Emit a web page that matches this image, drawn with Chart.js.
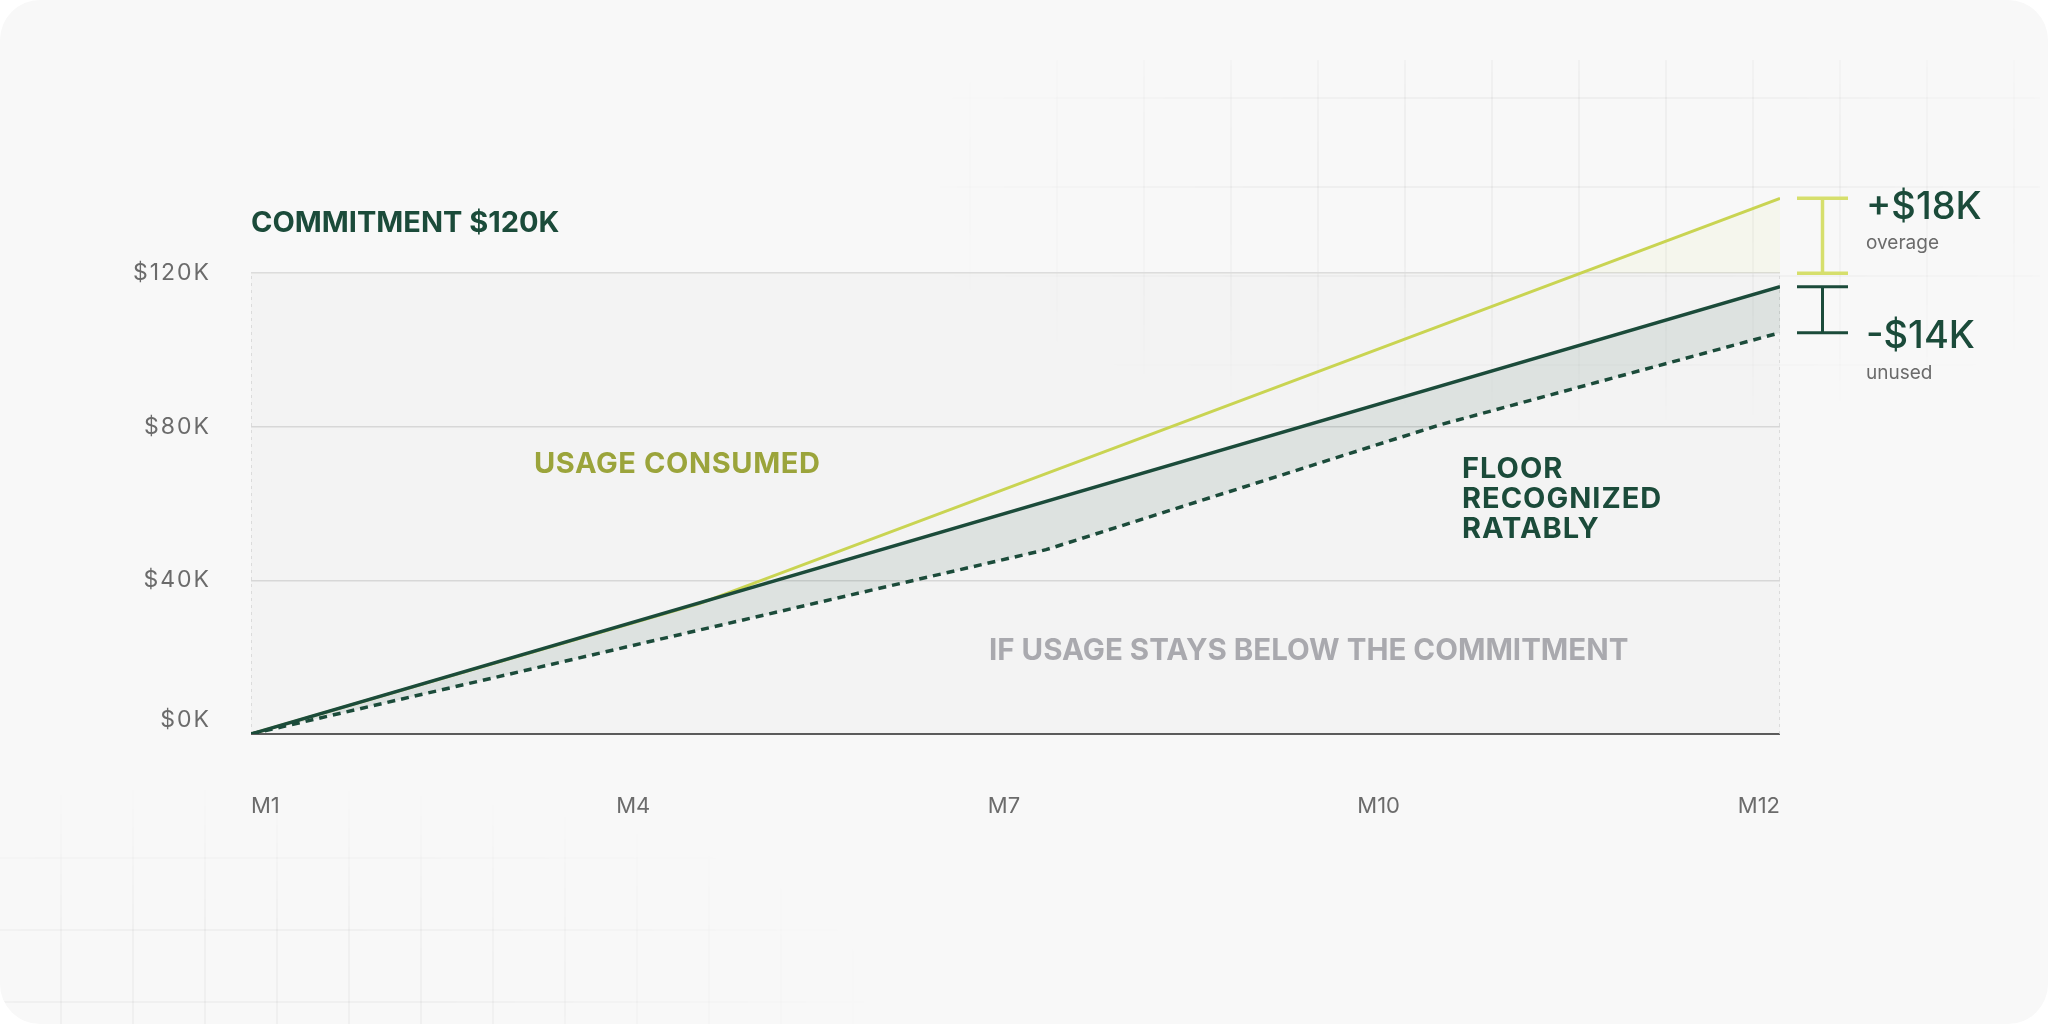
<!DOCTYPE html>
<html>
<head>
<meta charset="utf-8">
<title>Commitment vs usage</title>
<script src="https://cdn.jsdelivr.net/npm/chart.js@4.4.1/dist/chart.umd.min.js"></script>
<style>
    html, body { margin: 0; padding: 0; background: #ffffff; }
    .card {
        position: absolute; left: 0; top: 0; width: 2048px; height: 1024px;
        background: #f8f8f8; border-radius: 40px; overflow: hidden;
    }
    .deco { position: absolute; pointer-events: none; }
    .deco-tr {
        left: 940px; top: 60px; width: 1100px; height: 360px;
        background-image:
            linear-gradient(to right, rgba(0,0,0,0.035) 2px, transparent 2px),
            linear-gradient(to bottom, rgba(0,0,0,0.035) 2px, transparent 2px);
        background-size: 87px 89px;
        background-position: 29px 37px;
        -webkit-mask-image: radial-gradient(ellipse 60% 70% at 55% 35%, #000 35%, transparent 100%);
        mask-image: radial-gradient(ellipse 60% 70% at 55% 35%, #000 35%, transparent 100%);
    }
    .deco-bl {
        left: 0; top: 790px; width: 940px; height: 234px;
        background-image:
            linear-gradient(to right, rgba(0,0,0,0.03) 2px, transparent 2px),
            linear-gradient(to bottom, rgba(0,0,0,0.03) 2px, transparent 2px);
        background-size: 72px 72px;
        background-position: 60px 67px;
        -webkit-mask-image: radial-gradient(ellipse 70% 90% at 25% 85%, #000 30%, transparent 100%);
        mask-image: radial-gradient(ellipse 70% 90% at 25% 85%, #000 30%, transparent 100%);
    }
    canvas { position: absolute; left: 0; top: 0; }
</style>
</head>
<body>
<div class="card">
    <div class="deco deco-tr"></div>
    <div class="deco deco-bl"></div>
    <canvas id="chart" width="2048" height="1024"></canvas>
</div>
<script>
// --- DATA (x runs 0 = M1 ... 4 = M12, y in $K) ---
const xTickLabels = ['M1', 'M4', 'M7', 'M10', 'M12'];
const xTickValues = [0, 1, 1.97, 2.95, 4];
const yTickValues = [0, 40, 80, 120];
const commitment = 120;

const usageX = [0, 1.175, 4];
const usageY = [0, 34, 139.5];

const floorX = [0, 4];
const floorY = [0, 116.5];

const belowX = [0, 2.08, 3.11, 4];
const belowY = [0, 48, 80.5, 104.5];

const overageLabel = '+$18K';
const unusedLabel = '-$14K';

// --- COLORS ---
const DARK = '#1b4b3a';
const YELLOW = '#c9d452';
const YELLOW_BRACKET = '#d6df6c';
const OLIVE = '#9ba43b';
const TICK_GRAY = '#6b6b6b';
const NOTE_GRAY = '#a9a9ae';

const toPoints = (xs, ys) => xs.map((x, i) => ({ x, y: ys[i] }));
const last = arr => arr[arr.length - 1];
const FONT = 'Inter, "Noto Sans", sans-serif';

// y tick labels are tracked a little wider than the rest
const tickSpacing = {
    id: 'tickSpacing',
    beforeDraw(chart) { chart.ctx.letterSpacing = '2px'; },
    afterDatasetsDraw(chart) { chart.ctx.letterSpacing = '0px'; }
};

function drawBracket(ctx, x0, x1, top, bottom, color, width) {
    const mid = (x0 + x1) / 2;
    ctx.strokeStyle = color;
    ctx.lineWidth = width;
    ctx.beginPath();
    ctx.moveTo(x0, top); ctx.lineTo(x1, top);
    ctx.moveTo(x0, bottom); ctx.lineTo(x1, bottom);
    ctx.moveTo(mid, top); ctx.lineTo(mid, bottom);
    ctx.stroke();
}

const annotations = {
    id: 'annotations',
    afterDatasetsDraw(chart) {
        const { ctx, scales: { x, y } } = chart;
        ctx.save();
        ctx.textBaseline = 'alphabetic';
        ctx.textAlign = 'left';

        // section labels
        ctx.letterSpacing = '0px';
        ctx.font = `700 29px ${FONT}`;
        ctx.fillStyle = DARK;
        ctx.fillText(`COMMITMENT $${commitment}K`, x.left, 232);

        ctx.letterSpacing = '0.6px';
        ctx.fillStyle = OLIVE;
        ctx.fillText('USAGE CONSUMED', 534, 473);

        ctx.letterSpacing = '1px';
        ctx.fillStyle = DARK;
        ['FLOOR', 'RECOGNIZED', 'RATABLY'].forEach((line, i) => {
            ctx.fillText(line, 1462, 478 + i * 30);
        });

        ctx.letterSpacing = '0px';
        ctx.font = `700 29.5px ${FONT}`;
        ctx.fillStyle = NOTE_GRAY;
        ctx.fillText('IF USAGE STAYS BELOW THE COMMITMENT', 989, 660);

        // brackets at the right edge
        const bx0 = x.right + 17, bx1 = x.right + 68;
        const overTop = y.getPixelForValue(last(usageY));
        const overBottom = y.getPixelForValue(commitment);
        drawBracket(ctx, bx0, bx1, overTop, overBottom, YELLOW_BRACKET, 3.5);

        const unusedTop = y.getPixelForValue(last(floorY));
        const unusedBottom = y.getPixelForValue(last(belowY));
        drawBracket(ctx, bx0, bx1, unusedTop, unusedBottom, DARK, 3);

        const tx = x.right + 86;
        ctx.font = `500 38px ${FONT}`;
        ctx.fillStyle = DARK;
        ctx.fillText(overageLabel, tx, overTop + 21);
        ctx.fillText(unusedLabel, tx, unusedBottom + 15);

        ctx.font = `400 19px ${FONT}`;
        ctx.fillStyle = TICK_GRAY;
        ctx.fillText('overage', tx, overTop + 51);
        ctx.fillText('unused', tx, unusedBottom + 46);

        ctx.restore();
    }
};

const datasets = [
    {   // shaded commitment band
        data: toPoints([0, 4], [commitment, commitment]),
        borderWidth: 0,
        fill: 'origin',
        backgroundColor: 'rgba(0,0,0,0.02)',
        order: 10
    },
    {   // left edge of the band
        data: toPoints([0, 0], [0, commitment]),
        borderColor: '#d2d2d2', borderWidth: 1.5, borderDash: [3, 4],
        fill: false, order: 9
    },
    {   // right edge of the band
        data: toPoints([4, 4], [0, commitment]),
        borderColor: '#d2d2d2', borderWidth: 1.5, borderDash: [3, 4],
        fill: false, order: 9
    },
    {   // usage consumed
        data: toPoints(usageX, usageY),
        borderColor: YELLOW, borderWidth: 3,
        fill: { target: { value: commitment }, above: 'rgba(222, 226, 110, 0.08)', below: 'rgba(0,0,0,0)' },
        order: 2
    },
    {   // floor recognized ratably
        data: toPoints(floorX, floorY),
        borderColor: DARK, borderWidth: 3.5,
        fill: false, order: 0
    },
    {   // usage below the commitment
        data: toPoints(belowX, belowY),
        borderColor: DARK, borderWidth: 3.5, borderDash: [8, 6],
        fill: { target: 4 }, backgroundColor: 'rgba(27, 75, 58, 0.1)',
        order: 1
    }
];

new Chart(document.getElementById('chart').getContext('2d'), {
    type: 'line',
    data: { datasets },
    options: {
        responsive: false,
        devicePixelRatio: 1,
        animation: false,
        layout: { padding: { left: 0, right: 268, top: 158, bottom: 0 } },
        elements: { point: { radius: 0 }, line: { tension: 0, borderCapStyle: 'butt' } },
        plugins: { legend: { display: false }, tooltip: { enabled: false } },
        scales: {
            x: {
                type: 'linear', min: 0, max: 4,
                afterBuildTicks: axis => { axis.ticks = xTickValues.map(v => ({ value: v })); },
                afterFit: axis => { axis.height = 290; },
                grid: { display: false },
                border: { display: false },
                ticks: {
                    z: 1,
                    align: 'inner',
                    padding: 51,
                    color: TICK_GRAY,
                    font: { family: FONT, size: 22 },
                    callback: v => xTickLabels[xTickValues.indexOf(v)]
                }
            },
            y: {
                min: 0, max: 150,
                afterBuildTicks: axis => { axis.ticks = yTickValues.map(v => ({ value: v })); },
                afterFit: axis => { axis.width = 251; },
                border: { display: false },
                grid: {
                    drawTicks: false,
                    color: c => c.tick && c.tick.value === 0 ? '#5c5c5c' : '#dcdcdc',
                    lineWidth: c => c.tick && c.tick.value === 0 ? 2 : 1.5
                },
                ticks: {
                    padding: 40,
                    color: TICK_GRAY,
                    font: { family: FONT, size: 23 },
                    // the $0K label sits a little above its line
                    callback: v => v === 0 ? [`$${v}K`, ''] : `$${v}K`
                }
            }
        }
    },
    plugins: [tickSpacing, annotations]
});
</script>
</body>
</html>
